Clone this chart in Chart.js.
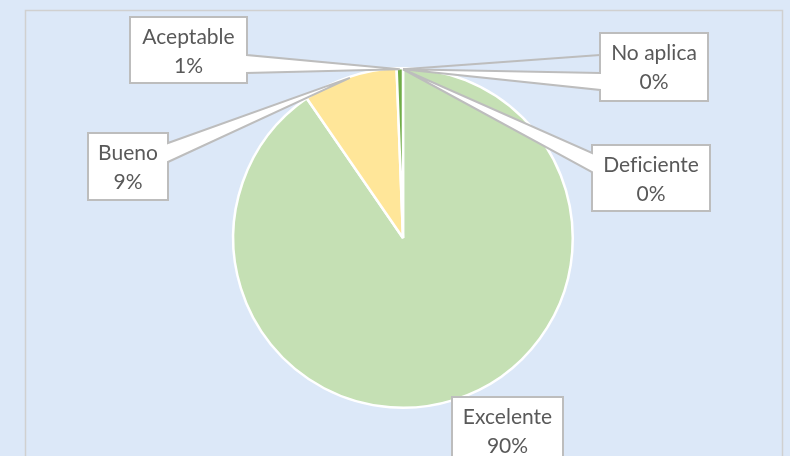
<!DOCTYPE html>
<html>
<head>
<meta charset="utf-8">
<script src="https://cdn.jsdelivr.net/npm/chart.js@4"></script>
<style>
    html, body { margin: 0; padding: 0; background: #dce8f8; }
    canvas { display: block; }
</style>
</head>
<body>
<canvas id="myChart" width="790" height="456"></canvas>
<script>
// datos
const categorias = ['Excelente', 'Bueno', 'Aceptable', 'Deficiente', 'No aplica'];
const respuestas = [452, 45, 3, 0, 0];
const colores = ['#c5e0b4', '#ffe699', '#70ad47', '#ed7d31', '#a5a5a5'];

// cajas de las etiquetas (x, y, ancho, alto, lado de la flecha)
const cajas = [
    {x: 452, y: 397, w: 111, h: 66, lado: null},
    {x: 88, y: 133, w: 80, h: 67, lado: 'right', b1: 10, b2: 29},
    {x: 130, y: 17, w: 117, h: 66, lado: 'right', b1: 38, b2: 56},
    {x: 592, y: 145, w: 118, h: 66, lado: 'left', b1: 8, b2: 27},
    {x: 600, y: 33, w: 108, h: 68, lado: 'left', b1: 40, b2: 57, extra: 22}
];

const fondo = {
    id: 'fondo',
    beforeDraw(chart) {
        const c = chart.ctx;
        c.save();
        c.fillStyle = '#dce8f8';
        c.fillRect(0, 0, chart.width, chart.height);
        c.strokeStyle = '#d0d0d0';
        c.lineWidth = 1.5;
        c.strokeRect(25.5, 10.5, 757, 470);
        c.restore();
    }
};

const etiquetas = {
    id: 'etiquetas',
    afterDatasetsDraw(chart) {
        const c = chart.ctx;
        const arcs = chart.getDatasetMeta(0).data;
        const total = respuestas.reduce((a, b) => a + b, 0);
        c.save();
        arcs.forEach((arc, i) => {
            const p = arc.getProps(['x', 'y', 'startAngle', 'endAngle', 'outerRadius'], true);
            const mid = (p.startAngle + p.endAngle) / 2;
            const tx = p.x + Math.cos(mid) * (p.outerRadius - 1);
            const ty = p.y + Math.sin(mid) * (p.outerRadius - 1);
            const b = cajas[i];

            c.lineWidth = 2;
            c.strokeStyle = '#bdbdbd';
            c.fillStyle = '#ffffff';

            if (b.extra) {
                c.beginPath();
                c.moveTo(tx, ty);
                c.lineTo(b.x, b.y + b.extra);
                c.stroke();
            }

            c.beginPath();
            c.moveTo(b.x, b.y);
            c.lineTo(b.x + b.w, b.y);
            if (b.lado === 'right') {
                c.lineTo(b.x + b.w, b.y + b.b1);
                c.lineTo(tx, ty);
                c.lineTo(b.x + b.w, b.y + b.b2);
            }
            c.lineTo(b.x + b.w, b.y + b.h);
            c.lineTo(b.x, b.y + b.h);
            if (b.lado === 'left') {
                c.lineTo(b.x, b.y + b.b2);
                c.lineTo(tx, ty);
                c.lineTo(b.x, b.y + b.b1);
            }
            c.closePath();
            c.fill();
            c.stroke();

            const pct = Math.round(respuestas[i] / total * 100) + '%';
            c.fillStyle = '#595959';
            c.font = '21px Lato';
            c.letterSpacing = '0.01px'; // sin ligadura "fi"
            c.textAlign = 'center';
            c.textBaseline = 'middle';
            c.fillText(categorias[i], b.x + b.w / 2, b.y + 20);
            c.fillText(pct, b.x + b.w / 2, b.y + 49);
        });
        c.restore();
    }
};

new Chart(document.getElementById('myChart'), {
    type: 'pie',
    data: {
        labels: categorias,
        datasets: [{
            data: respuestas,
            backgroundColor: colores,
            borderColor: '#ffffff',
            borderWidth: 2.5
        }]
    },
    options: {
        responsive: false,
        animation: false,
        layout: {padding: {left: 16, right: 0, top: 67, bottom: 47}},
        plugins: {
            legend: {display: false},
            tooltip: {enabled: false}
        }
    },
    plugins: [fondo, etiquetas]
});
</script>
</body>
</html>
